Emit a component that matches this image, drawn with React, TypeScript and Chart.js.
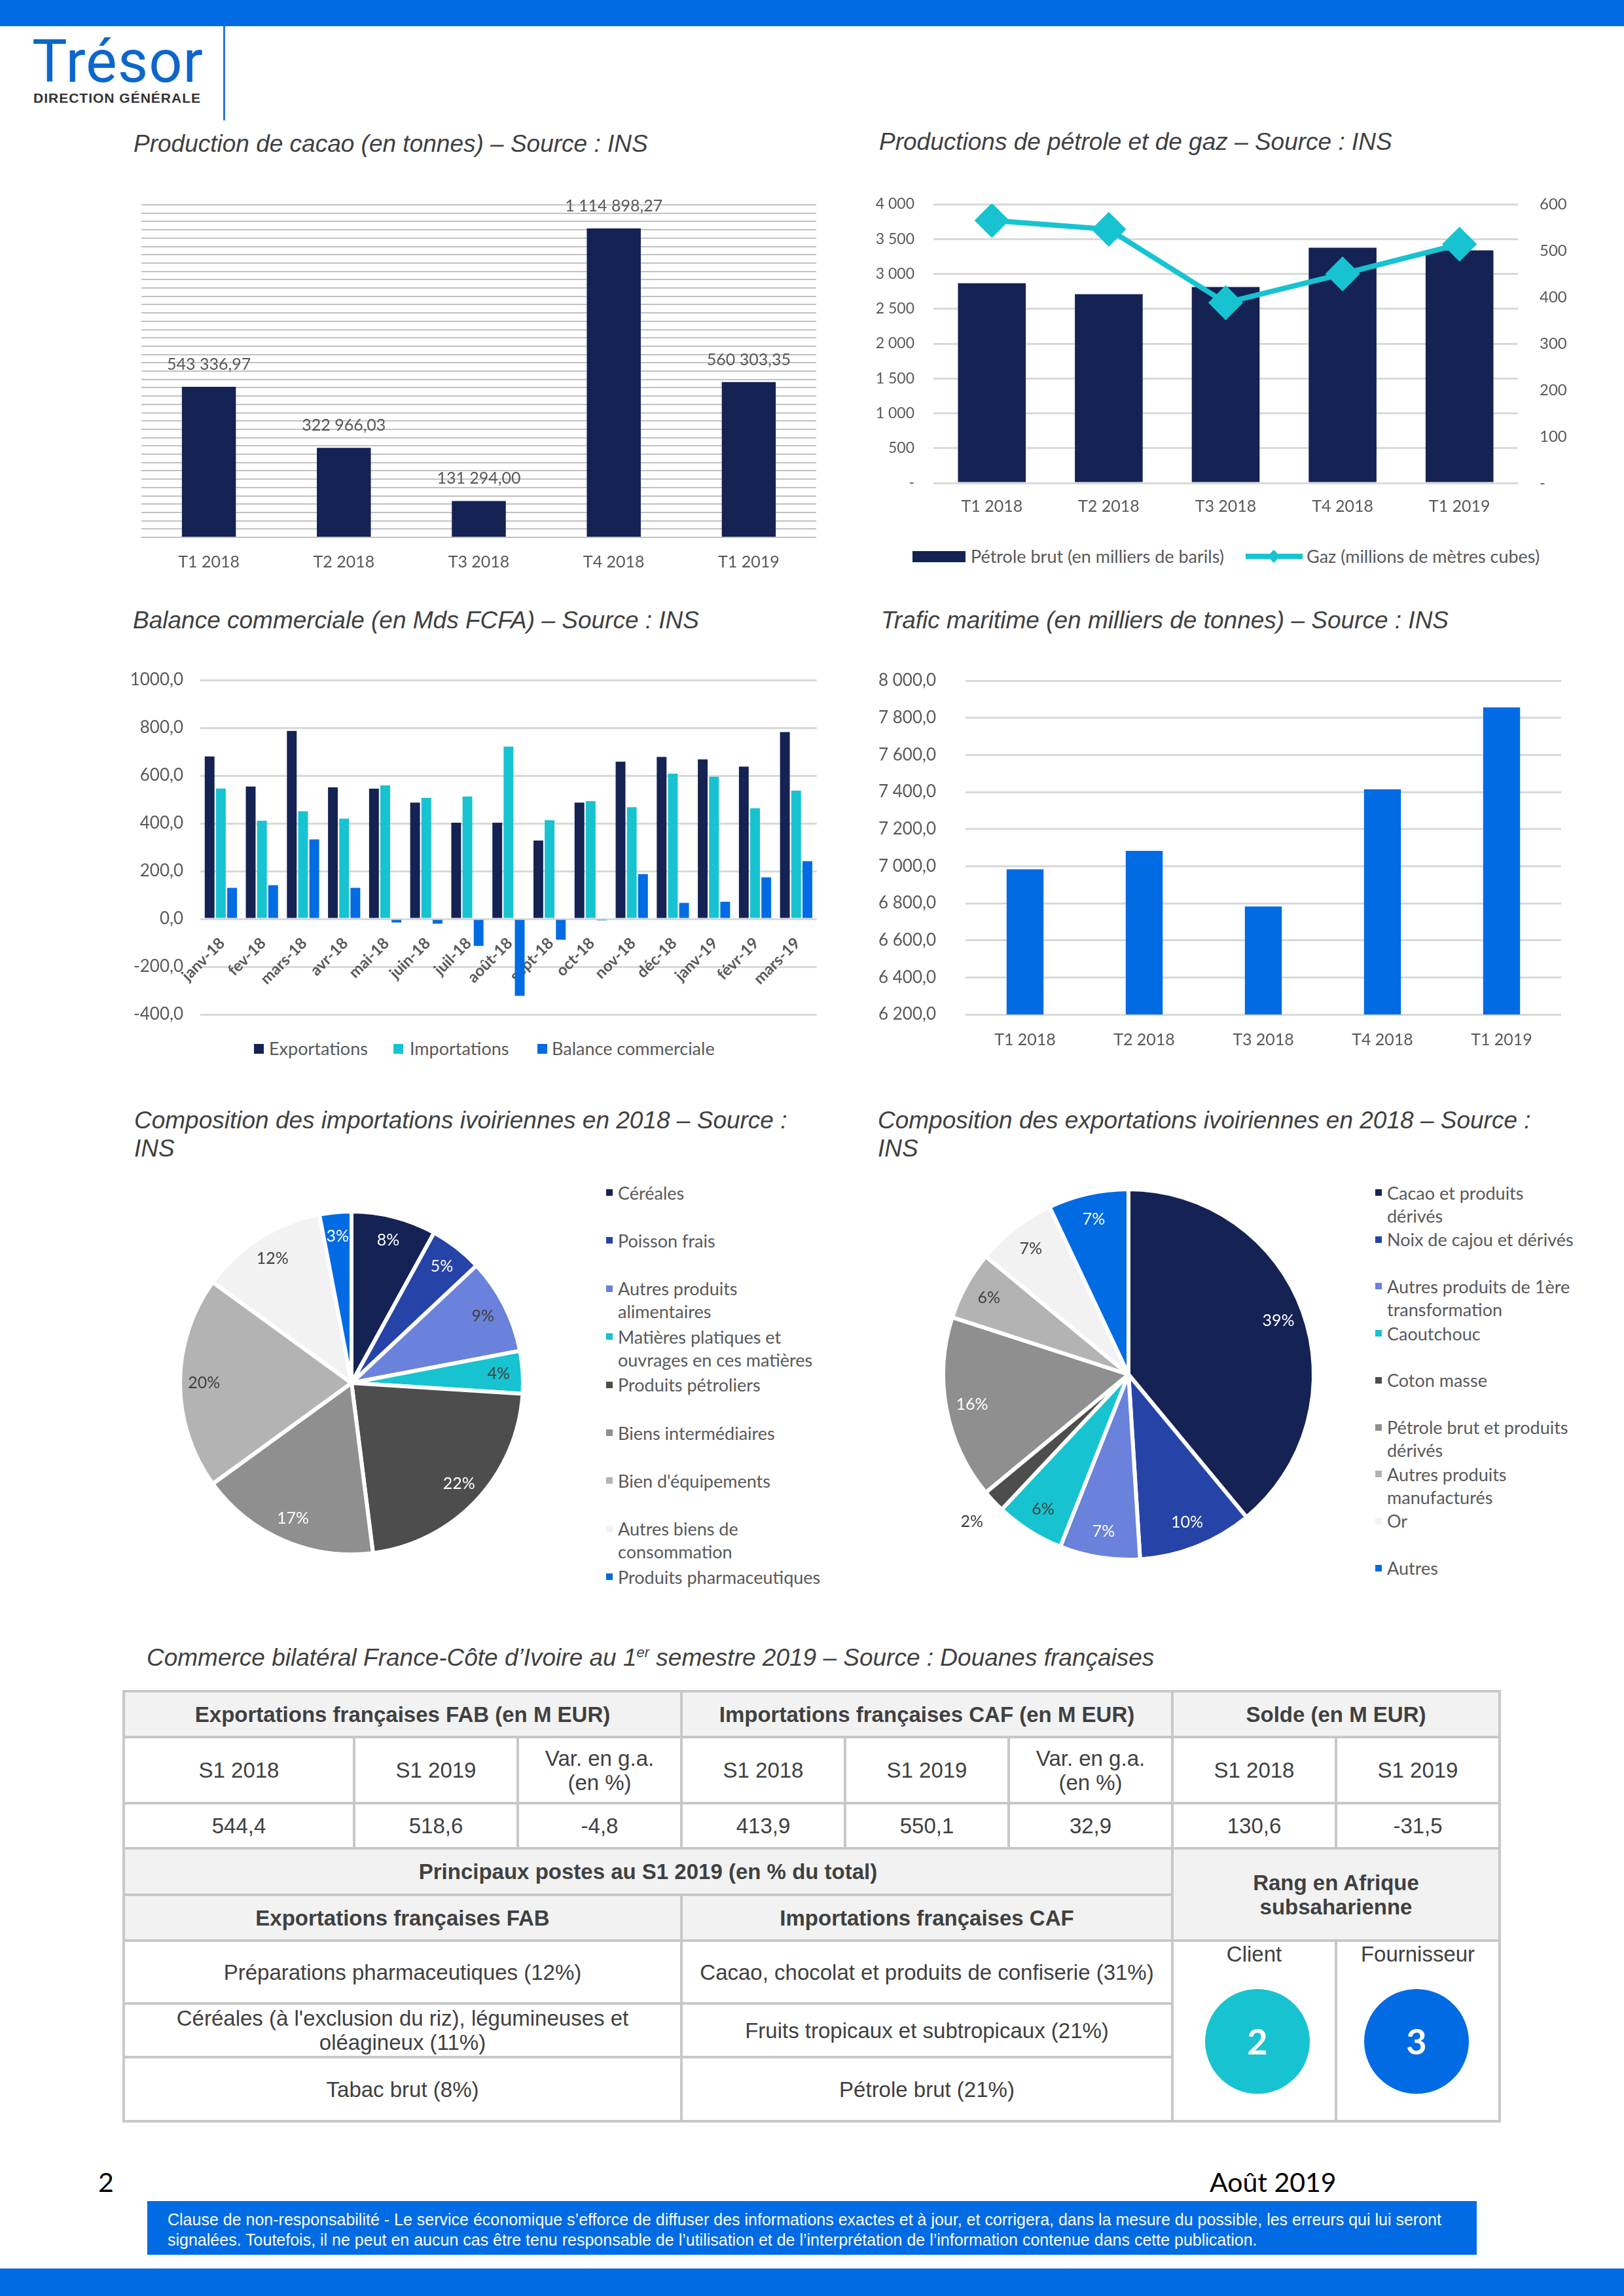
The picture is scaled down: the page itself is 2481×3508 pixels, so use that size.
import React, { useEffect, useRef } from "react";
import { Chart, registerables } from "chart.js";

Chart.register(...registerables);

// ---------------- DATA ----------------
const quarterLabels = ["T1 2018", "T2 2018", "T3 2018", "T4 2018", "T1 2019"];
const cacaoTonnes = [543336.97, 322966.03, 131294.0, 1114898.27, 560303.35];
const petroleBrut = [2867, 2710, 2813, 3375, 3339];
const gazMillionsM3 = [565, 546, 388, 450, 514];

const monthLabels = [
  "janv-18", "fev-18", "mars-18", "avr-18", "mai-18", "juin-18", "juil-18", "août-18",
  "sept-18", "oct-18", "nov-18", "déc-18", "janv-19", "févr-19", "mars-19",
];
const exportationsMds = [680, 554, 787, 551, 545, 487, 403, 403, 328, 487, 658, 678, 668, 638, 782];
const importationsMds = [546, 411, 451, 420, 559, 507, 512, 721, 413, 493, 468, 608, 595, 463, 537];
const balanceMds = [130, 141, 333, 130, -15, -20, -113, -322, -87, -6, 188, 67, 72, 174, 242];

const traficMaritime = [6983, 7082, 6782, 7414, 7856];

const importCategories = [
  "Céréales", "Poisson frais", "Autres produits alimentaires",
  "Matières platiques et ouvrages en ces matières", "Produits pétroliers",
  "Biens intermédiaires", "Bien d'équipements", "Autres biens de consommation",
  "Produits pharmaceutiques",
];
const importShares = [8, 5, 9, 4, 22, 17, 20, 12, 3];

const exportCategories = [
  "Cacao et produits dérivés", "Noix de cajou et dérivés",
  "Autres produits de 1ère transformation", "Caoutchouc", "Coton masse",
  "Pétrole brut et produits dérivés", "Autres produits manufacturés", "Or", "Autres",
];
const exportShares = [39, 10, 7, 6, 2, 16, 6, 7, 7];

const tableGroupHeaders = [
  "Exportations françaises FAB (en M EUR)",
  "Importations françaises CAF (en M EUR)",
  "Solde (en M EUR)",
];
const tablePeriodHeaders = [
  "S1 2018", "S1 2019", "Var. en g.a. (en %)",
  "S1 2018", "S1 2019", "Var. en g.a. (en %)",
  "S1 2018", "S1 2019",
];
const tableValues = ["544,4", "518,6", "-4,8", "413,9", "550,1", "32,9", "130,6", "-31,5"];
const postesHeader = "Principaux postes au S1 2019 (en % du total)";
const postesSubHeaders = ["Exportations françaises FAB", "Importations françaises CAF"];
const postesExport = [
  "Préparations pharmaceutiques (12%)",
  "Céréales (à l'exclusion du riz), légumineuses et oléagineux (11%)",
  "Tabac brut (8%)",
];
const postesImport = [
  "Cacao, chocolat et produits de confiserie (31%)",
  "Fruits tropicaux et subtropicaux (21%)",
  "Pétrole brut (21%)",
];
const rangHeader = "Rang en Afrique subsaharienne";
const rangLabels = ["Client", "Fournisseur"];
const rangValues = [2, 3];

// ---------------- STYLE ----------------
const BLUE = "#006be3";
const NAVY = "#152254";
const CYAN = "#17c3d0";
const MIDBLUE = "#2643a8";
const LILAC = "#6a82db";
const G1 = "#4d4d4d";
const G2 = "#8f8f8f";
const G3 = "#b3b3b3";
const G4 = "#f2f2f2";
const TICK = "#595959";
const DARK = "#404040";
const WHITE = "#ffffff";
const CAL = "Lato, 'Open Sans', sans-serif";
const ARIAL = "'Liberation Sans', Arial, sans-serif";

const pieColors = [NAVY, MIDBLUE, LILAC, CYAN, G1, G2, G3, G4, BLUE];
const importLabelColors = [WHITE, WHITE, DARK, DARK, WHITE, WHITE, DARK, DARK, WHITE];
const exportLabelColors = [WHITE, WHITE, WHITE, DARK, DARK, WHITE, DARK, DARK, WHITE];

Chart.defaults.font.family = CAL;

function frNumber(v: number, decimals: number, group = true): string {
  const neg = v < 0;
  const fixed = Math.abs(v).toFixed(decimals);
  let [intPart, decPart] = fixed.split(".");
  if (group) intPart = intPart.replace(/\B(?=(\d{3})+(?!\d))/g, " ");
  return (neg ? "-" : "") + intPart + (decPart ? "," + decPart : "");
}

// fix scale sizes so the plot areas land exactly where wanted
function fixWidth(w: number) {
  return (s: any) => {
    s.width = w;
    s.paddingTop = 0;
    s.paddingBottom = 0;
  };
}
function fixHeight(h: number) {
  return (s: any) => {
    s.height = h;
    s.paddingLeft = 0;
    s.paddingRight = 0;
  };
}

// ---------------- PLUGINS ----------------
const barValuesPlugin = {
  id: "barValues",
  afterDatasetsDraw(chart: any, _a: any, opts: any) {
    const ctx = chart.ctx;
    const meta = chart.getDatasetMeta(0);
    const values = chart.data.datasets[0].data as number[];
    ctx.save();
    ctx.font = `${opts.size}px ${CAL}`;
    ctx.fillStyle = TICK;
    ctx.textAlign = "center";
    ctx.textBaseline = "middle";
    meta.data.forEach((bar: any, i: number) => {
      ctx.fillText(frNumber(values[i], 2), bar.x, bar.y - opts.offset);
    });
    ctx.restore();
  },
};

const pieLabelsPlugin = {
  id: "pieLabels",
  afterDatasetsDraw(chart: any, _a: any, opts: any) {
    const ctx = chart.ctx;
    const meta = chart.getDatasetMeta(0);
    const values = chart.data.datasets[0].data as number[];
    ctx.save();
    ctx.font = `${opts.size}px ${CAL}`;
    ctx.textAlign = "center";
    ctx.textBaseline = "middle";
    meta.data.forEach((arc: any, i: number) => {
      const p = arc.getProps(["x", "y", "startAngle", "endAngle", "outerRadius"], true);
      const mid = (p.startAngle + p.endAngle) / 2;
      const outside = values[i] <= opts.outsideMax;
      const r = p.outerRadius * (outside ? 1.16 : 0.86);
      ctx.fillStyle = outside ? DARK : opts.colors[i];
      ctx.fillText(values[i] + "%", p.x + Math.cos(mid) * r, p.y + Math.sin(mid) * r);
    });
    ctx.restore();
  },
};

const baseOptions = {
  animation: false,
  responsive: false,
  events: [],
};

// ---------------- CHART CONFIGS ----------------
function cacaoConfig(): any {
  return {
    type: "bar",
    data: {
      labels: quarterLabels,
      datasets: [{ data: cacaoTonnes, backgroundColor: NAVY, categoryPercentage: 1, barPercentage: 0.4 }],
    },
    options: {
      ...baseOptions,
      layout: { padding: { left: 26, right: 13, top: 33, bottom: 0 } },
      plugins: { legend: { display: false }, tooltip: { enabled: false }, barValues: { size: 25, offset: 34 } },
      scales: {
        x: {
          grid: { display: false, drawTicks: false },
          border: { display: false },
          ticks: { color: TICK, font: { size: 25 }, padding: 23 },
          afterFit: fixHeight(79),
        },
        y: {
          min: 0,
          max: 1200000,
          grid: { color: "#c2c2c2", lineWidth: 2, drawTicks: false },
          border: { display: false },
          ticks: { display: false, stepSize: 30000 },
          afterFit: fixWidth(0),
        },
      },
    },
    plugins: [barValuesPlugin],
  };
}

function petroleConfig(): any {
  return {
    type: "bar",
    data: {
      labels: quarterLabels,
      datasets: [
        {
          type: "line",
          label: "Gaz (millions de mètres cubes)",
          data: gazMillionsM3,
          yAxisID: "y1",
          borderColor: CYAN,
          backgroundColor: CYAN,
          borderWidth: 8,
          pointStyle: "rectRot",
          pointRadius: 21,
          pointBackgroundColor: CYAN,
          pointBorderColor: CYAN,
          tension: 0,
          order: 0,
        },
        {
          type: "bar",
          label: "Pétrole brut (en milliers de barils)",
          data: petroleBrut,
          yAxisID: "y",
          backgroundColor: NAVY,
          categoryPercentage: 1,
          barPercentage: 0.58,
          order: 1,
        },
      ],
    },
    options: {
      ...baseOptions,
      layout: { padding: { left: 0, right: 0, top: 32, bottom: 0 } },
      plugins: { legend: { display: false }, tooltip: { enabled: false } },
      scales: {
        x: {
          grid: { display: false, drawTicks: false },
          border: { display: false },
          ticks: { color: TICK, font: { size: 25 }, padding: 21 },
          afterFit: fixHeight(72),
        },
        y: {
          position: "left",
          min: 0,
          max: 4000,
          grid: { color: "#d9d9d9", lineWidth: 3, drawTicks: false },
          border: { display: false },
          ticks: {
            stepSize: 500,
            color: TICK,
            font: { size: 23 },
            padding: 29,
            callback: (v: any) => (Number(v) === 0 ? "-" : frNumber(Number(v), 0)),
          },
          afterFit: fixWidth(126),
        },
        y1: {
          position: "right",
          min: 0,
          max: 600,
          grid: { display: false, drawTicks: false },
          border: { display: false },
          ticks: {
            stepSize: 100,
            color: TICK,
            font: { size: 24 },
            padding: 33,
            callback: (v: any) => (Number(v) === 0 ? "-" : frNumber(Number(v), 0)),
          },
          afterFit: fixWidth(101),
        },
      },
    },
  };
}

function balanceConfig(): any {
  const ds = (data: number[], color: string, label: string) => ({
    label,
    data,
    backgroundColor: color,
    categoryPercentage: 0.82,
    barPercentage: 0.87,
  });
  return {
    type: "bar",
    data: {
      labels: monthLabels,
      datasets: [
        ds(exportationsMds, NAVY, "Exportations"),
        ds(importationsMds, CYAN, "Importations"),
        ds(balanceMds, BLUE, "Balance commerciale"),
      ],
    },
    options: {
      ...baseOptions,
      layout: { padding: { left: 0, right: 11, top: 29, bottom: 20 } },
      plugins: { legend: { display: false }, tooltip: { enabled: false } },
      scales: {
        x: {
          position: { y: 0 },
          grid: { display: false, drawTicks: false },
          border: { display: false },
          ticks: {
            color: TICK,
            font: { size: 24, weight: "bold" },
            minRotation: 45,
            maxRotation: 45,
            autoSkip: false,
            padding: 23,
            labelOffset: 2,
          },
        },
        y: {
          min: -400,
          max: 1000,
          grid: { color: "#d9d9d9", lineWidth: 3, drawTicks: false },
          border: { display: false },
          ticks: {
            stepSize: 200,
            color: TICK,
            font: { size: 26 },
            padding: 26,
            callback: (v: any) => frNumber(Number(v), 1, false),
          },
          afterFit: fixWidth(126),
        },
      },
    },
  };
}

function traficConfig(): any {
  return {
    type: "bar",
    data: {
      labels: quarterLabels,
      datasets: [{ data: traficMaritime, backgroundColor: BLUE, categoryPercentage: 1, barPercentage: 0.31 }],
    },
    options: {
      ...baseOptions,
      layout: { padding: { left: 0, right: 35, top: 30, bottom: 0 } },
      plugins: { legend: { display: false }, tooltip: { enabled: false } },
      scales: {
        x: {
          grid: { display: false, drawTicks: false },
          border: { display: false },
          ticks: { color: TICK, font: { size: 25 }, padding: 24 },
          afterFit: fixHeight(90),
        },
        y: {
          min: 6200,
          max: 8000,
          grid: { color: "#d9d9d9", lineWidth: 3, drawTicks: false },
          border: { display: false },
          ticks: {
            stepSize: 200,
            color: TICK,
            font: { size: 26 },
            padding: 45,
            callback: (v: any) => frNumber(Number(v), 1),
          },
          afterFit: fixWidth(175),
        },
      },
    },
  };
}

function pieConfig(labels: string[], shares: number[], radius: number, labelColors: string[], outsideMax: number): any {
  return {
    type: "pie",
    data: {
      labels,
      datasets: [
        {
          data: shares,
          backgroundColor: pieColors,
          borderColor: WHITE,
          borderWidth: 6,
          radius,
        },
      ],
    },
    options: {
      ...baseOptions,
      layout: { padding: 0 },
      plugins: {
        legend: { display: false },
        tooltip: { enabled: false },
        pieLabels: { colors: labelColors, size: 25, outsideMax },
      },
    },
    plugins: [pieLabelsPlugin],
  };
}

// ---------------- COMPONENTS ----------------
function ChartCanvas(props: { left: number; top: number; width: number; height: number; build: () => any }) {
  const ref = useRef<HTMLCanvasElement | null>(null);
  useEffect(() => {
    if (!ref.current) return;
    const chart = new Chart(ref.current, props.build());
    return () => chart.destroy();
  }, []);
  return (
    <canvas
      ref={ref}
      width={props.width}
      height={props.height}
      style={{ position: "absolute", left: props.left, top: props.top, width: props.width, height: props.height }}
    />
  );
}

function Title(props: { left: number; baseline: number; children: any }) {
  const size = 37;
  const lh = 43;
  const top = props.baseline - ((lh - 1.117 * size) / 2 + 0.905 * size);
  return (
    <div
      style={{
        position: "absolute",
        left: props.left,
        top,
        font: `italic ${size}px ${ARIAL}`,
        lineHeight: lh + "px",
        color: DARK,
        whiteSpace: "nowrap",
      }}
    >
      {props.children}
    </div>
  );
}

function PieLegend(props: { labels: string[]; left: number; firstCenter: number; step: number; width: number }) {
  const lh = 35;
  return (
    <>
      {props.labels.map((l, i) => (
        <div
          key={i}
          style={{
            position: "absolute",
            left: props.left,
            top: props.firstCenter + i * props.step - lh / 2,
            width: props.width,
            font: `27px ${CAL}`,
            lineHeight: lh + "px",
            color: TICK,
          }}
        >
          <span
            style={{
              position: "absolute",
              left: -18,
              top: lh / 2 - 5,
              width: 10,
              height: 10,
              background: pieColors[i],
            }}
          />
          {l}
        </div>
      ))}
    </>
  );
}

function LegendText(props: { left: number; center: number; children: any; size?: number }) {
  const lh = 36;
  return (
    <div
      style={{
        position: "absolute",
        left: props.left,
        top: props.center - lh / 2,
        font: `${props.size || 27}px ${CAL}`,
        lineHeight: lh + "px",
        color: TICK,
        whiteSpace: "nowrap",
      }}
    >
      {props.children}
    </div>
  );
}

const COLS = [189, 541, 791, 1041, 1291, 1541, 1791, 2041, 2291];
const ROWS = [2584, 2654, 2755, 2824, 2895, 2965, 3061, 3143, 3241];

function Cell(props: { c: number; r: number; cs?: number; rs?: number; bold?: boolean; shaded?: boolean; top?: boolean; children: any }) {
  const cs = props.cs || 1;
  const rs = props.rs || 1;
  const left = COLS[props.c] - 2;
  const top = ROWS[props.r] - 2;
  const width = COLS[props.c + cs] - COLS[props.c] + 4;
  const height = ROWS[props.r + rs] - ROWS[props.r] + 4;
  return (
    <div
      style={{
        position: "absolute",
        left,
        top,
        width,
        height,
        boxSizing: "border-box",
        border: "4px solid #c8c8c8",
        background: props.shaded ? G4 : WHITE,
        display: "flex",
        flexDirection: "column",
        alignItems: "center",
        justifyContent: props.top ? "flex-start" : "center",
        textAlign: "center",
        font: `${props.bold ? "bold " : ""}33px ${ARIAL}`,
        lineHeight: "37px",
        color: DARK,
        padding: "0 22px",
      }}
    >
      {props.children}
    </div>
  );
}

function RankCell(props: { c: number; label: string; value: number; color: string; dx: number }) {
  return (
    <Cell c={props.c} r={5} rs={3} top>
      <div style={{ whiteSpace: "nowrap" }}>{props.label}</div>
      <div
        style={{
          position: "absolute",
          left: "50%",
          top: 72,
          marginLeft: -80 + props.dx,
          width: 160,
          height: 160,
          borderRadius: "50%",
          background: props.color,
          color: WHITE,
          font: `bold 54px ${CAL}`,
          lineHeight: "160px",
          textAlign: "center",
        }}
      >
        {props.value}
      </div>
    </Cell>
  );
}

export default function App() {
  return (
    <div
      style={{
        position: "absolute",
        left: 0,
        top: 0,
        width: 2481,
        height: 3508,
        background: WHITE,
        overflow: "hidden",
      }}
    >
      {/* header */}
      <div style={{ position: "absolute", left: 0, top: 0, width: 2481, height: 40, background: BLUE }} />
      <div
        style={{
          position: "absolute",
          left: 49,
          top: 52,
          font: `400 90px Roboto, ${ARIAL}`,
          lineHeight: "86px",
          color: "#0d66cc",
          letterSpacing: 1,
        }}
      >
        Trésor
      </div>
      <div
        style={{
          position: "absolute",
          left: 51,
          top: 139,
          font: `bold 21px ${ARIAL}`,
          lineHeight: "22px",
          color: "#333333",
          letterSpacing: 1,
          whiteSpace: "nowrap",
        }}
      >
        DIRECTION GÉNÉRALE
      </div>
      <div style={{ position: "absolute", left: 341, top: 40, width: 3, height: 144, background: "#2a7ad8" }} />

      {/* row 1 */}
      <Title left={204} baseline={232}>Production de cacao (en tonnes) – Source : INS</Title>
      <ChartCanvas left={190} top={280} width={1070} height={620} build={cacaoConfig} />

      <Title left={1343} baseline={229}>Productions de pétrole et de gaz – Source : INS</Title>
      <ChartCanvas left={1300} top={280} width={1120} height={530} build={petroleConfig} />
      <div style={{ position: "absolute", left: 1394, top: 842, width: 81, height: 17, background: NAVY }} />
      <LegendText left={1483} center={850}>Pétrole brut (en milliers de barils)</LegendText>
      <div style={{ position: "absolute", left: 1903, top: 846, width: 87, height: 8, background: CYAN }} />
      <div
        style={{
          position: "absolute",
          left: 1946 - 7,
          top: 850 - 7,
          width: 14,
          height: 14,
          background: CYAN,
          transform: "rotate(45deg)",
        }}
      />
      <LegendText left={1996} center={850}>Gaz (millions de mètres cubes)</LegendText>

      {/* row 2 */}
      <Title left={203} baseline={960}>Balance commerciale (en Mds FCFA) – Source : INS</Title>
      <ChartCanvas left={180} top={1010} width={1080} height={560} build={balanceConfig} />
      <div style={{ position: "absolute", left: 388, top: 1595, width: 15, height: 15, background: NAVY }} />
      <LegendText left={411} center={1602}>Exportations</LegendText>
      <div style={{ position: "absolute", left: 601, top: 1595, width: 15, height: 15, background: CYAN }} />
      <LegendText left={626} center={1602}>Importations</LegendText>
      <div style={{ position: "absolute", left: 821, top: 1595, width: 15, height: 15, background: BLUE }} />
      <LegendText left={843} center={1602}>Balance commerciale</LegendText>

      <Title left={1346} baseline={960}>Trafic maritime (en milliers de tonnes) – Source : INS</Title>
      <ChartCanvas left={1300} top={1010} width={1120} height={630} build={traficConfig} />

      {/* row 3 */}
      <Title left={205} baseline={1724}>
        Composition des importations ivoiriennes en 2018 – Source :<br />INS
      </Title>
      <ChartCanvas
        left={237}
        top={1813}
        width={600}
        height={600}
        build={() => pieConfig(importCategories, importShares, 262, importLabelColors, 0)}
      />
      <PieLegend labels={importCategories} left={944} firstCenter={1822} step={73.4} width={316} />

      <Title left={1341} baseline={1724}>
        Composition des exportations ivoiriennes en 2018 – Source :<br />INS
      </Title>
      <ChartCanvas
        left={1404}
        top={1780}
        width={640}
        height={640}
        build={() => pieConfig(exportCategories, exportShares, 283, exportLabelColors, 2)}
      />
      <PieLegend labels={exportCategories} left={2119} firstCenter={1822} step={71.7} width={290} />

      {/* table */}
      <Title left={224} baseline={2545}>
        Commerce bilatéral France-Côte d’Ivoire au 1
        <span style={{ fontSize: 22, verticalAlign: "super", lineHeight: 0 }}>er</span> semestre 2019 – Source : Douanes
        françaises
      </Title>
      <Cell c={0} r={0} cs={3} bold shaded>{tableGroupHeaders[0]}</Cell>
      <Cell c={3} r={0} cs={3} bold shaded>{tableGroupHeaders[1]}</Cell>
      <Cell c={6} r={0} cs={2} bold shaded>{tableGroupHeaders[2]}</Cell>
      {tablePeriodHeaders.map((h, i) => (
        <Cell key={"h" + i} c={i} r={1}>{h}</Cell>
      ))}
      {tableValues.map((v, i) => (
        <Cell key={"v" + i} c={i} r={2}>{v}</Cell>
      ))}
      <Cell c={0} r={3} cs={6} bold shaded>{postesHeader}</Cell>
      <Cell c={6} r={3} cs={2} rs={2} bold shaded>{rangHeader}</Cell>
      <Cell c={0} r={4} cs={3} bold shaded>{postesSubHeaders[0]}</Cell>
      <Cell c={3} r={4} cs={3} bold shaded>{postesSubHeaders[1]}</Cell>
      {postesExport.map((p, i) => (
        <Cell key={"pe" + i} c={0} r={5 + i} cs={3}>{p}</Cell>
      ))}
      {postesImport.map((p, i) => (
        <Cell key={"pi" + i} c={3} r={5 + i} cs={3}>{p}</Cell>
      ))}
      <RankCell c={6} label={rangLabels[0]} value={rangValues[0]} color={CYAN} dx={5} />
      <RankCell c={7} label={rangLabels[1]} value={rangValues[1]} color={BLUE} dx={-2} />

      {/* footer */}
      <div style={{ position: "absolute", left: 150, top: 3313, font: `41px ${CAL}`, lineHeight: "41px", color: "#000" }}>2</div>
      <div style={{ position: "absolute", left: 1848, top: 3313, font: `41px ${CAL}`, lineHeight: "41px", color: "#000" }}>
        Août 2019
      </div>
      <div
        style={{
          position: "absolute",
          left: 225,
          top: 3363,
          width: 2031,
          height: 82,
          boxSizing: "border-box",
          background: BLUE,
          color: WHITE,
          font: `25px ${ARIAL}`,
          lineHeight: "31px",
          padding: "13px 0 0 31px",
          whiteSpace: "nowrap",
        }}
      >
        Clause de non-responsabilité - Le service économique s’efforce de diffuser des informations exactes et à jour, et
        corrigera, dans la mesure du possible, les erreurs qui lui seront
        <br />
        signalées. Toutefois, il ne peut en aucun cas être tenu responsable de l’utilisation et de l’interprétation de
        l’information contenue dans cette publication.
      </div>
      <div style={{ position: "absolute", left: 0, top: 3466, width: 2481, height: 42, background: BLUE }} />
    </div>
  );
}
